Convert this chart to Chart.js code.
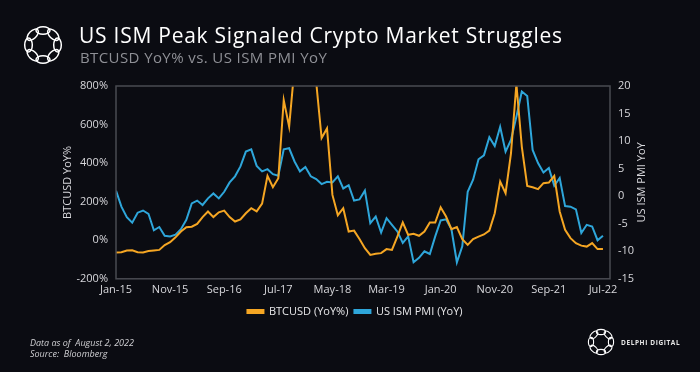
<!DOCTYPE html>
<html>
<head>
<meta charset="utf-8">
<script src="https://cdn.jsdelivr.net/npm/chart.js@4.4.1/dist/chart.umd.min.js"></script>
<style>
  html, body { margin: 0; padding: 0; background: #0b0c12; }
  #wrap { position: relative; width: 700px; height: 372px; overflow: hidden; font-family: "Open Sans", sans-serif; }
  #chart { position: absolute; left: 0; top: 0; }
  .title { position: absolute; left: 79px; top: 21px; color: #ffffff; font-size: 21px; letter-spacing: 0.75px; white-space: nowrap; }
  .subtitle { position: absolute; left: 80px; top: 47px; color: #8f9096; font-size: 15px; letter-spacing: 0.4px; white-space: nowrap; }
  .foot { position: absolute; left: 30px; top: 337px; color: #cfcfd2; font-size: 9px; font-style: italic; line-height: 11px; }
  .brand { position: absolute; left: 621px; top: 338px; color: #e6e6e6; font-size: 6.5px; font-weight: 700; letter-spacing: 0.6px; white-space: nowrap; }
  svg { position: absolute; }
</style>
</head>
<body>
<div id="wrap">
  <canvas id="chart" width="700" height="372"></canvas>
  <svg id="logoTop" style="left:21px; top:23px" width="44" height="44"></svg>
  <div class="title">US ISM Peak Signaled Crypto Market Struggles</div>
  <div class="subtitle">BTCUSD YoY% vs. US ISM PMI YoY</div>
  <div class="foot">Data as of&nbsp; August 2, 2022<br>Source:&nbsp; Bloomberg</div>
  <svg id="logoBottom" style="left:586px; top:327px" width="30" height="30"></svg>
  <div class="brand">DELPHI DIGITAL</div>
</div>
<script>
// monthly points, Jan-15 .. Jul-22
const monthNames = ['Jan', 'Feb', 'Mar', 'Apr', 'May', 'Jun', 'Jul', 'Aug', 'Sep', 'Oct', 'Nov', 'Dec'];
const months = [];
for (let y = 15; y <= 22; y++) {
    monthNames.forEach(m => months.push(m + '-' + y));
}
months.length = 91;

const tickLabels = ['Jan-15', 'Nov-15', 'Sep-16', 'Jul-17', 'May-18', 'Mar-19', 'Jan-20', 'Nov-20', 'Sep-21', 'Jul-22'];

// BTCUSD YoY % (left axis)
const btcYoY = [
    -64, -62, -53, -52, -62, -63, -56, -53, -50, -25,
    -10, 15, 45, 68, 70, 85, 120, 149, 120, 145,
    154, 120, 97, 108, 140, 166, 150, 190, 334, 275,
    322, 727, 589, 900, 1300, 1500, 1200, 820, 530, 580,
    235, 130, 166, 45, 50, 6, -41, -76, -70, -67,
    -46, -50, 19, 92, 28, 33, 23, 45, 92, 92,
    171, 123, 57, 68, 6, -24, 6, 19, 30, 50,
    140, 304, 244, 451, 810, 486, 282, 275, 265, 296,
    299, 334, 149, 54, 11, -15, -28, -33, -15, -46,
    -46
];

// US ISM PMI YoY (right axis)
const ismYoY = [
    1.0, -1.9, -3.8, -4.8, -3.0, -2.6, -3.2, -6.2, -5.6, -7.2,
    -7.3, -7.0, -6.0, -4.3, -1.3, -0.8, -1.6, -0.4, 0.5, -0.4,
    0.8, 2.5, 3.6, 5.4, 8.1, 8.5, 5.5, 4.5, 4.9, 4.0,
    3.7, 8.5, 8.7, 6.3, 4.5, 5.3, 3.6, 3.1, 2.2, 2.6,
    2.5, 3.6, 1.4, 2.0, -0.8, -0.6, 1.0, -4.9, -3.7, -6.6,
    -4.0, -5.2, -6.4, -8.5, -7.3, -12.0, -11.2, -10.0, -10.5, -7.3,
    -4.4, -4.2, -6.0, -12.0, -9.1, 0.8, 3.0, 6.7, 7.4, 10.7,
    9.1, 12.6, 8.1, 10.2, 14.4, 19.0, 18.2, 8.4, 6.0, 4.3,
    5.1, 1.9, 3.3, -1.8, -1.9, -2.4, -6.7, -5.2, -5.5, -8.0,
    -7.2
];

const tickIndex = tickLabels.map(l => months.indexOf(l));

const orange = '#f5a623';
const blue = '#2ea6da';
const tickColor = '#d8d8dc';
const fontFamily = '"Open Sans", sans-serif';
const rightTitle = 'US ISM PMI YoY';

// thin grey frame around the plot area, plus the right axis title
// (reads bottom-to-top like the left one)
const frame = {
    id: 'frame',
    afterDatasetsDraw(chart) {
        const a = chart.chartArea;
        const c = chart.ctx;
        c.save();
        c.strokeStyle = '#4a4b52';
        c.lineWidth = 1.5;
        c.strokeRect(a.left, a.top, a.right - a.left, a.bottom - a.top);
        c.restore();
    },
    afterDraw(chart) {
        const a = chart.chartArea;
        const c = chart.ctx;
        c.save();
        c.translate(a.right + 32, (a.top + a.bottom) / 2);
        c.rotate(-Math.PI / 2);
        c.fillStyle = tickColor;
        c.font = '11px ' + fontFamily;
        c.textAlign = 'center';
        c.textBaseline = 'middle';
        c.fillText(rightTitle, 0, 0);
        c.restore();
    }
};

const ctx = document.getElementById('chart').getContext('2d');

new Chart(ctx, {
    type: 'line',
    data: {
        datasets: [
            {
                label: 'BTCUSD (YoY%)',
                data: btcYoY.map((v, i) => ({ x: i, y: v })),
                borderColor: orange,
                backgroundColor: orange,
                borderWidth: 2,
                pointRadius: 0,
                tension: 0,
                yAxisID: 'y'
            },
            {
                label: 'US ISM PMI (YoY)',
                data: ismYoY.map((v, i) => ({ x: i, y: v })),
                borderColor: blue,
                backgroundColor: blue,
                borderWidth: 2,
                pointRadius: 0,
                tension: 0,
                yAxisID: 'y1'
            }
        ]
    },
    options: {
        responsive: false,
        animation: false,
        layout: { padding: { left: 50, right: 40, top: 86, bottom: 45 } },
        plugins: {
            legend: {
                position: 'bottom',
                labels: {
                    color: '#e8e8ea',
                    boxWidth: 16,
                    boxHeight: 3,
                    padding: 6,
                    font: { family: fontFamily, size: 11 }
                }
            },
            tooltip: { enabled: false }
        },
        scales: {
            x: {
                type: 'linear',
                min: 0,
                max: 91.3,
                grid: { display: false, drawTicks: false },
                border: { display: false },
                afterBuildTicks: s => { s.ticks = tickIndex.map(v => ({ value: v })); },
                ticks: {
                    color: tickColor,
                    padding: 4,
                    maxRotation: 0,
                    autoSkip: false,
                    font: { family: fontFamily, size: 11 },
                    callback: v => months[v]
                }
            },
            y: {
                position: 'left',
                min: -200,
                max: 800,
                grid: { display: false, drawTicks: false },
                border: { display: false },
                afterFit: s => { s.width = 66; },
                ticks: {
                    stepSize: 200,
                    color: tickColor,
                    padding: 8,
                    font: { family: fontFamily, size: 11 },
                    callback: v => v + '%'
                },
                title: {
                    display: true,
                    text: 'BTCUSD YoY%',
                    color: tickColor,
                    padding: { top: 11, bottom: 0 },
                    font: { family: fontFamily, size: 11 }
                }
            },
            y1: {
                position: 'right',
                min: -15,
                max: 20,
                grid: { display: false, drawTicks: false },
                border: { display: false },
                afterFit: s => { s.width = 50; },
                ticks: {
                    stepSize: 5,
                    color: tickColor,
                    padding: 8,
                    font: { family: fontFamily, size: 11 }
                }
            }
        }
    },
    plugins: [frame]
});

// Delphi ring logo: eight links around a circle
function drawLogo(id, size, ringR, rx, ry, sw) {
    const svg = document.getElementById(id);
    const c = size / 2;
    let s = '';
    for (let k = 0; k < 8; k++) {
        const a = k * 45;
        const rad = a * Math.PI / 180;
        const cx = c + ringR * Math.cos(rad);
        const cy = c + ringR * Math.sin(rad);
        s += '<ellipse cx="' + cx.toFixed(2) + '" cy="' + cy.toFixed(2) + '" rx="' + rx + '" ry="' + ry +
            '" transform="rotate(' + (a + 90) + ' ' + cx.toFixed(2) + ' ' + cy.toFixed(2) + ')"' +
            ' fill="none" stroke="#ffffff" stroke-width="' + sw + '"/>';
    }
    svg.innerHTML = s;
}
drawLogo('logoTop', 44, 14.5, 7, 3.8, 1.5);
drawLogo('logoBottom', 30, 10, 4.6, 2.6, 1.1);
</script>
</body>
</html>
